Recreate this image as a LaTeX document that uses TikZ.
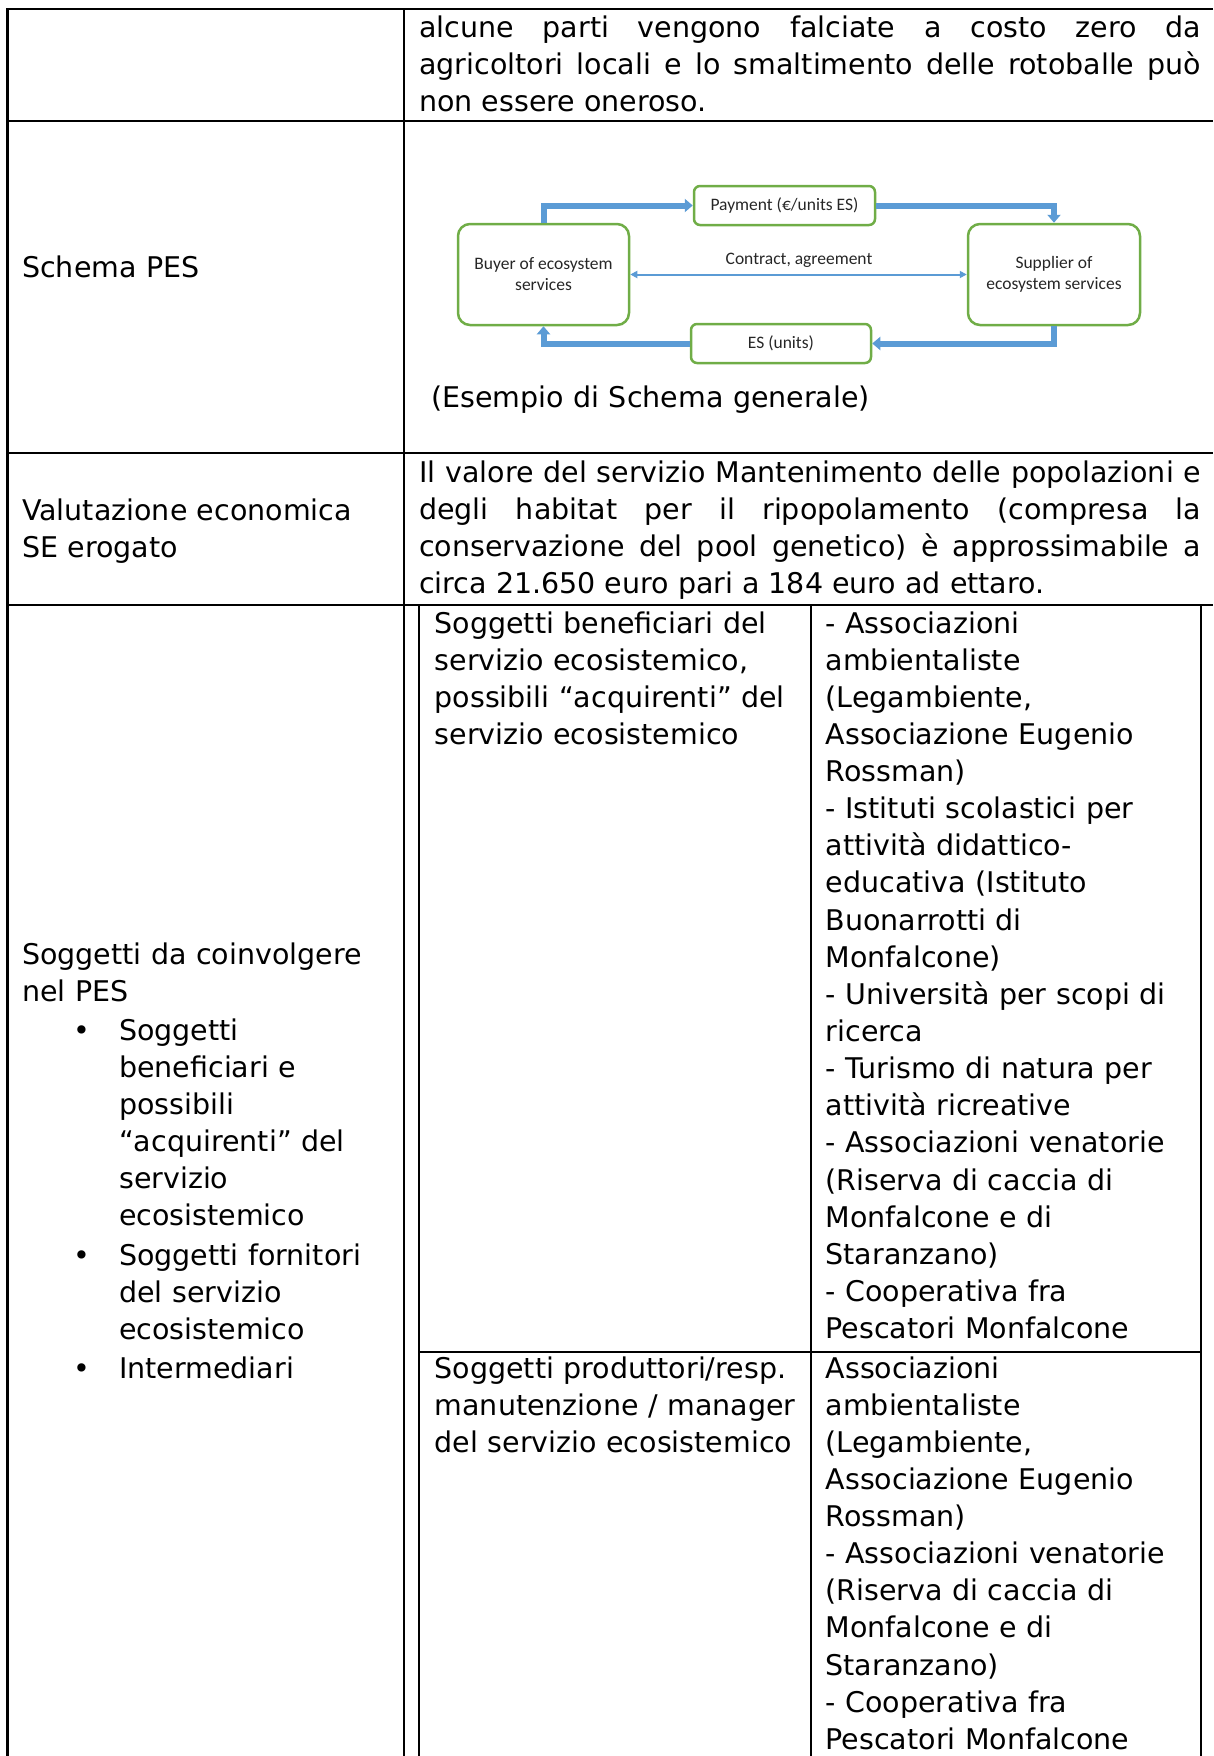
\documentclass[tikz,border=0pt]{standalone}
\usepackage{fontspec}
\setmainfont{DejaVu Sans}
\newfontfamily\diagfont{Carlito}
\usetikzlibrary{arrows.meta,positioning}
\definecolor{esblue}{HTML}{5B9BD5}
\definecolor{esgreen}{HTML}{70AD47}
\tikzset{
  rule/.style={line width=2.5pt},
  cell/.style={inner sep=0pt, anchor=base west, text width=600pt, align=left,
    font=\fontsize{28.5pt}{37.14pt}\selectfont},
  justcell/.style={cell, text width=782pt, align=justify},
  dot/.style={inner sep=0pt, anchor=base, font=\fontsize{28.5pt}{37.14pt}\selectfont},
  esbox/.style={draw=esgreen, line width=2.5pt, rounded corners=12pt, inner sep=0pt,
    align=center, text=black!85, font=\diagfont\fontsize{17.5pt}{21pt}\selectfont},
  esflat/.style={esbox, rounded corners=6pt},
  eslabel/.style={inner sep=0pt, text=black!85, font=\diagfont\fontsize{17.5pt}{21pt}\selectfont},
  flow/.style={draw=esblue, line width=6pt, -{Triangle[length=8pt,width=13pt]}},
  contract/.style={draw=esblue, line width=2pt, {Triangle[length=7pt,width=7pt]}-{Triangle[length=7pt,width=7pt]}}
}
\begin{document}
\begin{tikzpicture}[x=1pt,y=-1pt]
\useasboundingbox (0,0) rectangle (1213,1756);
% outer table
\draw[rule] (1213,9) -| (7.5,1756);
\draw[rule] (404,9) -- (404,1756);
\foreach \yy in {121,453,605}
  \draw[rule] (7.5,\yy) -- (1213,\yy);
% inner table
\foreach \xx in {419,811,1201}
  \draw[rule] (\xx,605) -- (\xx,1756);
\draw[rule] (419,1352) -- (1201,1352);

% row 1
\node[justcell] (costo) at (419,37) {alcune parti vengono falciate a costo zero da\linebreak
  agricoltori locali e lo smaltimento delle rotoballe può\linebreak non essere oneroso.};

% row 2
\node[cell] (schema) at (22,277) {Schema PES};
\node[esbox, minimum width=171pt, minimum height=101pt] (buyer) at (543.5,274.5)
  {Buyer of ecosystem\\services};
\node[esbox, minimum width=172pt, minimum height=101pt] (supplier) at (1054,274.5)
  {Supplier of\\ecosystem services};
\node[esflat, minimum width=181pt, minimum height=39pt] (payment) at (784.5,205.5)
  {Payment (€/units ES)};
\node[esflat, minimum width=180pt, minimum height=39pt] (units) at (781,343.5)
  {ES (units)};
\node[eslabel] (agreement) at (799,260) {Contract, agreement};
\draw[flow] (buyer.north) |- (payment.west);
\draw[flow] (payment.east) -| (supplier.north);
\draw[flow] (supplier.south) |- (units.east);
\draw[flow] (units.west) -| (buyer.south);
\draw[contract] (buyer) -- (supplier);
\node[cell] (esempio) at (431,407) {(Esempio di Schema generale)};

% row 3
\node[cell] (valutazione) at (22,520) {Valutazione economica\\SE erogato};
\node[justcell] (valore) at (419,482) {Il valore del servizio Mantenimento delle popolazioni e\linebreak
  degli habitat per il ripopolamento (compresa la\linebreak
  conservazione del pool genetico) è approssimabile a\linebreak
  circa 21.650 euro pari a 184 euro ad ettaro.};

% row 4, left
\node[cell] (soggetti) at (22,964) {Soggetti da coinvolgere\\nel PES};
\node[dot] (dota) at (82,1040) {•};
\node[cell] (beneficiari) at (119,1040) {Soggetti\\beneficiari e\\possibili\\“acquirenti” del\\servizio\\ecosistemico};
\node[dot] (dotb) at (82,1265) {•};
\node[cell] (fornitori) at (119,1265) {Soggetti fornitori\\del servizio\\ecosistemico};
\node[dot] (dotc) at (82,1378) {•};
\node[cell] (intermediari) at (119,1378) {Intermediari};

% row 4, inner table
\node[cell] (acquirenti) at (434.5,633) {Soggetti beneficiari del\\servizio ecosistemico,\\possibili “acquirenti” del\\servizio ecosistemico};
\node[cell] (acqlist) at (825.5,633) {- Associazioni\\ambientaliste\\(Legambiente,\\Associazione Eugenio\\Rossman)\\
  - Istituti scolastici per\\attività didattico-\\educativa (Istituto\\Buonarrotti di\\Monfalcone)\\
  - Università per scopi di\\ricerca\\- Turismo di natura per\\attività ricreative\\
  - Associazioni venatorie\\(Riserva di caccia di\\Monfalcone e di\\Staranzano)\\
  - Cooperativa fra\\Pescatori Monfalcone};
\node[cell] (produttori) at (434.5,1378) {Soggetti produttori/resp.\\manutenzione / manager\\del servizio ecosistemico};
\node[cell] (prodlist) at (825.5,1378) {Associazioni\\ambientaliste\\(Legambiente,\\Associazione Eugenio\\Rossman)\\
  - Associazioni venatorie\\(Riserva di caccia di\\Monfalcone e di\\Staranzano)\\
  - Cooperativa fra\\Pescatori Monfalcone};
\end{tikzpicture}
\end{document}
